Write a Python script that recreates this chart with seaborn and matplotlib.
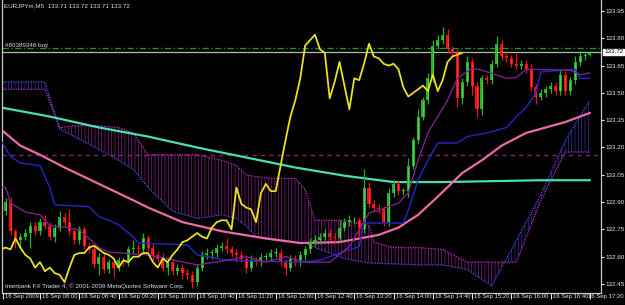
import numpy as np
import pandas as pd
import matplotlib
matplotlib.use("Agg")
import matplotlib.pyplot as plt
from matplotlib.transforms import ScaledTranslation, blended_transform_factory
import seaborn as sns

# ---------------- data (EURJPYm, M5) ----------------
first_open = 132.90
closes = [
    132.85, 132.90, 132.74, 132.69, 132.71, 132.73, 132.77, 132.74, 132.79, 132.77,
    132.71, 132.76, 132.82, 132.79, 132.74, 132.69, 132.75, 132.66, 132.64, 132.56,
    132.60, 132.53, 132.57, 132.54, 132.58, 132.57, 132.64, 132.65, 132.64, 132.70,
    132.65, 132.61, 132.59, 132.54, 132.57, 132.52, 132.54, 132.51, 132.50, 132.46,
    132.54, 132.61, 132.62, 132.62, 132.65, 132.66, 132.64, 132.62, 132.61, 132.59,
    132.54, 132.58, 132.57, 132.60, 132.60, 132.62, 132.62, 132.57, 132.54, 132.59,
    132.57, 132.61, 132.64, 132.68, 132.69, 132.71, 132.73, 132.71, 132.70, 132.76,
    132.79, 132.80, 132.80, 132.75, 132.98, 132.89, 132.87, 132.86, 132.79, 132.95,
    133.00, 132.96, 132.96, 133.10, 133.24, 133.37, 133.46, 133.58, 133.76, 133.79,
    133.82, 133.74, 133.72, 133.47, 133.56, 133.67, 133.54, 133.41, 133.58, 133.57,
    133.66, 133.77, 133.70, 133.69, 133.66, 133.65, 133.66, 133.63, 133.53, 133.48,
    133.50, 133.52, 133.54, 133.51, 133.60, 133.51, 133.57, 133.67, 133.70, 133.71,
    133.72,
]
wick_up = [
    0.02, 0.02, 0.03, 0.01, 0.02, 0.02, 0.02, 0.02, 0.02, 0.04,
    0.02, 0.02, 0.03, 0.02, 0.07, 0.02, 0.02, 0.02, 0.02, 0.02,
    0.02, 0.02, 0.02, 0.02, 0.02, 0.02, 0.02, 0.04, 0.02, 0.03,
    0.02, 0.02, 0.02, 0.03, 0.02, 0.02, 0.02, 0.02, 0.02, 0.02,
    0.02, 0.02, 0.03, 0.02, 0.02, 0.02, 0.04, 0.02, 0.02, 0.02,
    0.02, 0.03, 0.02, 0.02, 0.02, 0.02, 0.03, 0.02, 0.02, 0.02,
    0.02, 0.02, 0.02, 0.02, 0.03, 0.02, 0.02, 0.02, 0.02, 0.04,
    0.02, 0.03, 0.02, 0.02, 0.10, 0.03, 0.02, 0.02, 0.02, 0.03,
    0.02, 0.02, 0.02, 0.04, 0.02, 0.04, 0.02, 0.03, 0.03, 0.03,
    0.04, 0.03, 0.02, 0.02, 0.02, 0.03, 0.02, 0.02, 0.02, 0.02,
    0.02, 0.04, 0.02, 0.03, 0.02, 0.06, 0.02, 0.02, 0.03, 0.02,
    0.02, 0.02, 0.02, 0.02, 0.03, 0.02, 0.02, 0.03, 0.03, 0.02,
    0.01,
]
wick_dn = [
    0.02, 0.02, 0.02, 0.04, 0.04, 0.02, 0.08, 0.02, 0.02, 0.02,
    0.02, 0.03, 0.02, 0.02, 0.02, 0.02, 0.02, 0.02, 0.02, 0.02,
    0.06, 0.02, 0.02, 0.05, 0.02, 0.02, 0.02, 0.02, 0.02, 0.02,
    0.02, 0.03, 0.02, 0.02, 0.04, 0.02, 0.02, 0.03, 0.02, 0.03,
    0.02, 0.02, 0.02, 0.03, 0.02, 0.02, 0.02, 0.02, 0.04, 0.02,
    0.03, 0.02, 0.02, 0.02, 0.02, 0.02, 0.02, 0.02, 0.04, 0.02,
    0.02, 0.02, 0.03, 0.02, 0.02, 0.02, 0.02, 0.02, 0.02, 0.02,
    0.02, 0.02, 0.02, 0.05, 0.02, 0.02, 0.02, 0.02, 0.02, 0.02,
    0.02, 0.02, 0.02, 0.03, 0.02, 0.02, 0.02, 0.02, 0.02, 0.02,
    0.02, 0.02, 0.02, 0.05, 0.03, 0.02, 0.05, 0.04, 0.03, 0.02,
    0.02, 0.02, 0.02, 0.02, 0.02, 0.02, 0.02, 0.02, 0.02, 0.04,
    0.02, 0.02, 0.02, 0.02, 0.02, 0.02, 0.02, 0.02, 0.02, 0.02,
    0.01,
]
chikou_shift = 26

ma_teal_bars = [0, 10, 20, 30, 40, 50, 60, 70, 80, 90, 100, 110, 120]
ma_teal = [133.42, 133.37, 133.31, 133.26, 133.20, 133.145, 133.09, 133.045,
           133.01, 133.01, 133.015, 133.02, 133.02]

ma_pink_bars = [0, 4, 8, 13, 20, 27, 30, 37, 45, 54, 61, 69, 77, 81, 85, 89,
                94, 98, 102, 107, 111, 115, 120]
ma_pink = [133.30, 133.21, 133.16, 133.09, 133.00, 132.91, 132.87, 132.79,
           132.74, 132.70, 132.675, 132.68, 132.72, 132.76, 132.83, 132.93,
           133.06, 133.13, 133.21, 133.28, 133.31, 133.34, 133.39]

kijun_bars = [0, 2, 4, 8, 10, 11, 18, 20, 22, 24, 27, 28, 38, 40, 46, 61, 65,
              69, 73, 74, 82, 83, 85, 87, 89, 93, 95, 99, 103, 105, 107, 109,
              110, 117, 118, 120]
kijun = [133.24, 133.15, 133.115, 133.10, 132.98, 132.885, 132.875, 132.82,
         132.80, 132.775, 132.71, 132.675, 132.665, 132.61, 132.58, 132.57,
         132.58, 132.62, 132.655, 132.785, 132.785, 132.855, 133.02, 133.13,
         133.225, 133.225, 133.26, 133.28, 133.31, 133.37, 133.42, 133.50,
         133.615, 133.63, 133.58, 133.58]

tenkan_bars = [0, 1, 2, 5, 8, 10, 14, 16, 18, 20, 22, 30, 40, 46, 50, 54, 58,
               62, 67, 71, 75, 77, 81, 83, 85, 87, 89, 91, 93, 96, 98, 103,
               105, 107, 116, 118, 120]
tenkan = [132.98, 132.98, 132.895, 132.845, 132.83, 132.77, 132.76, 132.745,
          132.70, 132.65, 132.625, 132.61, 132.555, 132.58, 132.60, 132.57,
          132.60, 132.57, 132.57, 132.655, 132.84, 132.855, 132.895, 132.95,
          133.13, 133.28, 133.37, 133.46, 133.58, 133.635, 133.625, 133.58,
          133.585, 133.63, 133.625, 133.60, 133.61]

cloud_bars = [0, 9, 12, 15, 20, 24, 27, 30, 35, 40, 45, 48, 50, 52, 55, 60, 62,
              64, 70, 75, 76, 80, 85, 90, 95, 100, 105, 110, 115, 120]
span_a = [133.56, 133.56, 133.30, 133.26, 133.19, 133.13, 133.08, 132.98,
          132.85, 132.81, 132.83, 132.81, 132.77, 132.71, 132.70, 132.68,
          132.675, 132.65, 132.59, 132.565, 132.565, 132.56, 132.555, 132.555,
          132.53, 132.44, 132.69, 132.94, 133.24, 133.46]
span_b = [133.52, 133.52, 133.31, 133.32, 133.32, 133.31, 133.28, 133.16,
          133.16, 133.16, 133.13, 133.10, 133.05, 133.04, 133.03, 133.03,
          132.97, 132.80, 132.80, 132.77, 132.68, 132.65, 132.65, 132.64,
          132.57, 132.57, 132.57, 132.91, 133.175, 133.175]

order_price = 133.747
bid_price = 133.725
level_price = 133.159

ytick_values = [133.95, 133.80, 133.65, 133.50, 133.35, 133.20, 133.05,
                132.90, 132.75, 132.60, 132.45]
xtick_bars = [0.5, 8, 16, 24, 32, 40, 48, 56, 64, 72, 80, 88, 96, 104, 112, 120]
xtick_labels = ["16 Sep 2009", "16 Sep 08:00", "16 Sep 08:40", "16 Sep 09:20",
                "16 Sep 10:00", "16 Sep 10:40", "16 Sep 11:20", "16 Sep 12:00",
                "16 Sep 12:40", "16 Sep 13:20", "16 Sep 14:00", "16 Sep 14:40",
                "16 Sep 15:20", "16 Sep 16:00", "16 Sep 16:40", "16 Sep 17:20"]

# ---------------- style ----------------
sns.set_theme(style="dark", rc={
    "axes.facecolor": "black", "figure.facecolor": "black",
    "axes.edgecolor": "#c8c8c8", "text.color": "#e8e8e8",
    "xtick.color": "#e8e8e8", "ytick.color": "#e8e8e8",
    "hatch.linewidth": 0.4,
})
plt.rcParams["font.family"] = ["Liberation Sans", "DejaVu Sans"]
FS = 4.5
FSX = 4.3

W, H = 625, 305
fig = plt.figure(figsize=(W / 100, H / 100), dpi=100, facecolor="black")
ax = fig.add_axes([2 / W, (H - 293) / H, 599 / W, 293 / H])
ax.set_facecolor("black")

n = len(closes)
bars = np.arange(n)
opens = [first_open] + closes[:-1]
df = pd.DataFrame({"bar": bars, "open": opens, "close": closes})
df["top"] = df[["open", "close"]].max(axis=1)
df["bot"] = df[["open", "close"]].min(axis=1)
df["high"] = df["top"] + np.array(wick_up)
df["low"] = df["bot"] - np.array(wick_dn)
df["up"] = df["close"] >= df["open"]

# ---------------- ichimoku cloud ----------------
cb = np.array(cloud_bars, float)
sa = np.array(span_a)
sb = np.array(span_b)
MAG = "#a428a4"
BLU = "#3c3cc8"
ax.fill_between(cb, sa, sb, where=sa >= sb, interpolate=True, facecolor="none",
                edgecolor=BLU, hatch="|||||", linewidth=0, zorder=1)
ax.fill_between(cb, sa, sb, where=sa < sb, interpolate=True, facecolor="none",
                edgecolor=MAG, hatch="|||||", linewidth=0, zorder=1)
ax.plot(cb, sa, color="#5050e8", lw=0.9, ls=(0, (1, 1)), zorder=1.5)
ax.plot(cb, sb, color="#c030c0", lw=0.9, ls=(0, (1, 1)), zorder=1.5)

# ---------------- horizontal levels ----------------
ax.axhline(level_price, color="#8a1f6e", lw=1.0, ls=(0, (3, 3)), zorder=1.6)
ax.axhline(order_price, color="#10a010", lw=0.9, ls=(0, (5, 2, 1, 2)), zorder=1.6)
ax.axhline(bid_price, color="#b8b8b8", lw=0.9, zorder=1.6)

# ---------------- moving averages ----------------
sns.lineplot(x=ma_teal_bars, y=ma_teal, ax=ax, color="#46e0b4", lw=1.6,
             estimator=None, sort=False, legend=False, zorder=2)
sns.lineplot(x=ma_pink_bars, y=ma_pink, ax=ax, color="#ec6aa8", lw=1.6,
             estimator=None, sort=False, legend=False, zorder=2)

# ---------------- candles ----------------
GREEN = "#22b422"
RED = "#f01010"
colors = np.where(df["up"], GREEN, RED)
ax.vlines(df["bar"], df["low"], df["high"], colors=colors, lw=0.9, zorder=3)
ax.bar(df["bar"], (df["top"] - df["bot"]).clip(lower=0.004), bottom=df["bot"],
       width=0.62, color=colors, linewidth=0, zorder=3.1)
dots = np.where(df["up"], "#b8ffb8", "#ff9090")
ax.vlines(df["bar"], df["bot"] + 0.005, df["top"] - 0.005, colors=dots, lw=0.5,
          linestyles=(0, (1, 1.2)), zorder=3.2)

# ---------------- tenkan / kijun / chikou ----------------
sns.lineplot(x=kijun_bars, y=kijun, ax=ax, color="#2626c8", lw=1.0,
             estimator=None, sort=False, legend=False, zorder=3.5)
sns.lineplot(x=tenkan_bars, y=tenkan, ax=ax, color="#7a2290", lw=1.0,
             estimator=None, sort=False, legend=False, zorder=3.5)
chik_x = bars[: n - chikou_shift]
chik_y = closes[chikou_shift:]
sns.lineplot(x=chik_x, y=chik_y, ax=ax, color="#e8e020", lw=1.3,
             estimator=None, sort=False, legend=False, zorder=4)

# ---------------- axes ----------------
ax.set_xlim(0.26, 122.25)
ax.set_ylim(132.4005, 134.0104)
ax.set_xlabel("")
ax.set_ylabel("")
ax.grid(False)
for s in ["left", "right", "bottom"]:
    ax.spines[s].set_visible(True)
    ax.spines[s].set_color("#c8c8c8")
    ax.spines[s].set_linewidth(0.9)
ax.spines["top"].set_visible(False)

ax.yaxis.tick_right()
ax.set_yticks(ytick_values)
ax.set_yticklabels([f"{v:.2f}" for v in ytick_values], fontsize=FS, color="#e8e8e8")
ax.tick_params(axis="y", which="both", direction="out", length=2.0, width=0.8,
               pad=1.2, colors="#e8e8e8", right=True, left=False)

ax.set_xticks(xtick_bars)
ax.set_xticklabels(xtick_labels, fontsize=FSX, color="#e8e8e8", ha="left")
ax.tick_params(axis="x", which="both", direction="out", length=4.0, width=0.8,
               pad=-3.2, colors="#e8e8e8", bottom=True)
xlabs = ax.get_xticklabels()
for k, lab in enumerate(xlabs):
    dx = 2.0 if k < len(xlabs) - 1 else -1.5
    lab.set_transform(lab.get_transform() + ScaledTranslation(dx / 100, 0, fig.dpi_scale_trans))

# current price box
tr = blended_transform_factory(ax.transAxes, ax.transData)
ax.text(1.0 + 3 / 599, bid_price, "133.72", transform=tr, fontsize=FS,
        color="black", ha="left", va="center", zorder=10,
        bbox=dict(boxstyle="square,pad=0.15", facecolor="white", edgecolor="white"))

# texts
fig.text(4 / W, 1 - 6 / H, "EURJPYm,M5  133.71 133.72 133.71 133.72",
         fontsize=FS, color="#e0e0e0", ha="left", va="center")
fig.text(5 / W, 1 - 45 / H, "#80389348 buy", fontsize=FS, color="#e0e0e0",
         ha="left", va="center")
fig.text(5 / W, 1 - 286 / H,
         "Interbank FX Trader 4, \u00a9 2001-2009 MetaQuotes Software Corp.",
         fontsize=FS, color="#e0e0e0", ha="left", va="center")

fig.savefig("out.png", dpi=100, facecolor="black")
